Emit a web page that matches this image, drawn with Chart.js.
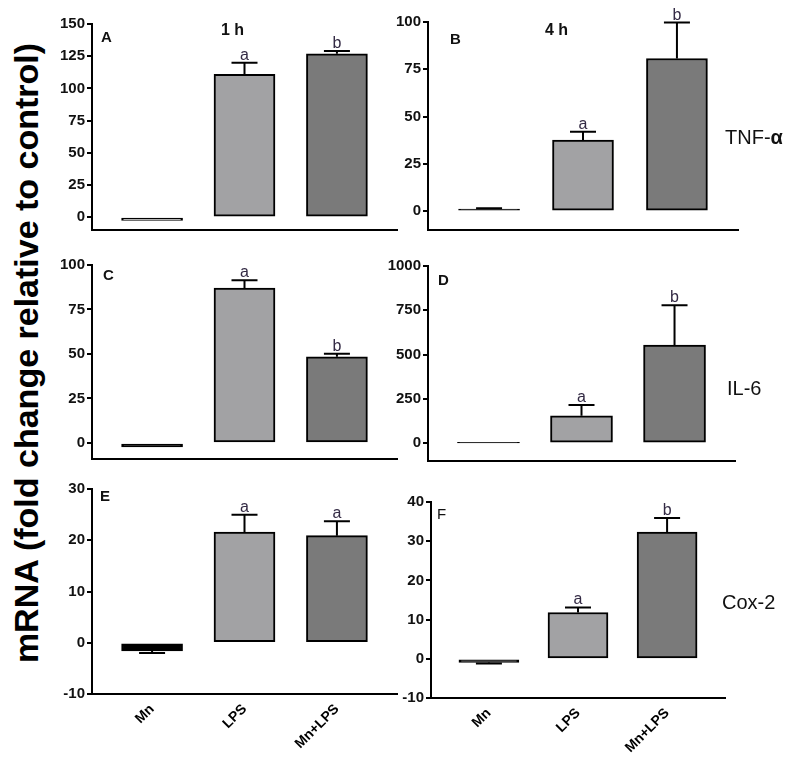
<!DOCTYPE html>
<html>
<head>
<meta charset="utf-8">
<script src="https://cdn.jsdelivr.net/npm/chart.js@4"></script>
<style>
  body { margin: 0; background: #fff; width: 800px; height: 761px; position: relative; overflow: hidden;
         font-family: "Liberation Sans", Arial, sans-serif; }
  canvas { position: absolute; }
  .t { position: absolute; color: #111; white-space: nowrap; line-height: 1; }
  .bold { font-weight: bold; }
  #ylab { position: absolute; left: 26px; top: 353px; font-size: 34px; font-weight: bold;
          transform: translate(-50%, -50%) rotate(-90deg); white-space: nowrap; color: #000; }
</style>
</head>
<body>
<div id="ylab">mRNA (fold change relative to control)</div>

<canvas id="cA"></canvas>
<canvas id="cB"></canvas>
<canvas id="cC"></canvas>
<canvas id="cD"></canvas>
<canvas id="cE"></canvas>
<canvas id="cF"></canvas>

<div class="t bold" style="left:101px;top:29px;font-size:15px">A</div>
<div class="t bold" style="left:450px;top:31px;font-size:15px">B</div>
<div class="t bold" style="left:103px;top:267px;font-size:15px">C</div>
<div class="t bold" style="left:438px;top:272px;font-size:15px">D</div>
<div class="t bold" style="left:100px;top:488px;font-size:15px">E</div>
<div class="t" style="left:437px;top:506px;font-size:15px">F</div>
<div class="t bold" style="left:221px;top:22px;font-size:16px">1 h</div>
<div class="t bold" style="left:545px;top:22px;font-size:16px">4 h</div>
<div class="t" style="left:725px;top:127px;font-size:20px">TNF-<b>α</b></div>
<div class="t" style="left:727px;top:378px;font-size:20px">IL-6</div>
<div class="t" style="left:722px;top:592px;font-size:20px">Cox-2</div>

<script>
const categories = ["Mn", "LPS", "Mn+LPS"];

// TNF-a
const tnf1h = [-2.5, 111, 126.8];
const tnf1hErr = [0, 9, 2.3];
const tnf4h = [1, 37.5, 80.7];
const tnf4hErr = [0.5, 4.5, 19];
// IL-6
const il6_1h = [-2.2, 87, 48.4];
const il6_1hErr = [0, 4.4, 1.8];
const il6_4h = [2, 155, 554];
const il6_4hErr = [0, 61, 225];
// Cox-2
const cox1h = [-1.6, 21.6, 20.9];
const cox1hErr = [0.4, 3.4, 2.8];
const cox4h = [-0.9, 11.8, 32.3];
const cox4hErr = [0.3, 1.3, 3.6];

const marksAB = ["", "a", "b"];
const marksE = ["", "a", "a"];

const ticksA = [0, 25, 50, 75, 100, 125, 150];
const ticksB = [0, 25, 50, 75, 100];
const ticksC = [0, 25, 50, 75, 100];
const ticksD = [0, 250, 500, 750, 1000];
const ticksE = [-10, 0, 10, 20, 30];
const ticksF = [-10, 0, 10, 20, 30, 40];

const lpsColor = "#a2a2a4";
const mnLpsColor = "#7a7a7a";

// error bars + significance letters
const errbars = {
  id: "errbars",
  afterDatasetsDraw(chart, args, opts) {
    const ctx = chart.ctx;
    const y = chart.scales.y;
    const meta = chart.getDatasetMeta(0);
    ctx.save();
    ctx.strokeStyle = "#000";
    ctx.lineWidth = 2;
    opts.values.forEach((v, i) => {
      const x = meta.data[i].x;
      const e = opts.errors[i];
      const sign = v < 0 ? -1 : 1;
      const y0 = y.getPixelForValue(v);
      const y1 = y.getPixelForValue(v + sign * e);
      if (e > 0) {
        ctx.beginPath();
        ctx.moveTo(x, y0);
        ctx.lineTo(x, y1);
        ctx.moveTo(x - 13, y1);
        ctx.lineTo(x + 13, y1);
        ctx.stroke();
      }
      if (opts.marks[i]) {
        ctx.fillStyle = "#332a44";
        ctx.font = "16px 'Liberation Sans', Arial";
        ctx.textAlign = "center";
        ctx.textBaseline = "alphabetic";
        ctx.fillText(opts.marks[i], x, y1 - 3);
      }
    });
    ctx.restore();
  }
};

function panel(id, box, vals, errs, marks, yTicks, yMin, mnColor, bottomRow) {
  const cv = document.getElementById(id);
  cv.width = box.w;
  cv.height = box.h;
  cv.style.left = box.x + "px";
  cv.style.top = box.y + "px";

  new Chart(cv, {
    type: "bar",
    data: {
      datasets: [{
        data: vals.map((v, i) => ({ x: i + 1, y: v })),
        backgroundColor: [mnColor, lpsColor, mnLpsColor],
        borderColor: "#000",
        borderWidth: 2,
        borderSkipped: false,
        barThickness: box.bar
      }]
    },
    options: {
      responsive: false,
      animation: false,
      layout: { padding: { top: box.pt, right: box.pr, left: 0, bottom: 0 } },
      plugins: {
        legend: { display: false },
        tooltip: { enabled: false },
        errbars: { values: vals, errors: errs, marks: marks }
      },
      scales: {
        x: {
          type: "linear",
          offset: false,
          min: 0.35,
          max: 3.65,
          afterBuildTicks: s => { s.ticks = categories.map((c, i) => ({ value: i + 1 })); },
          afterFit: s => { s.height = bottomRow ? 62 : 2; },
          grid: { display: false, drawTicks: false, offset: false },
          border: { display: true, color: "#000", width: 2 },
          ticks: {
            display: bottomRow,
            minRotation: 45,
            maxRotation: 45,
            padding: 7,
            color: "#000",
            font: { family: "'Liberation Sans', Arial", size: 14, weight: "bold" },
            callback: v => categories[Math.round(v) - 1]
          }
        },
        y: {
          min: yMin,
          max: yTicks[yTicks.length - 1],
          afterBuildTicks: s => { s.ticks = yTicks.map(v => ({ value: v })); },
          afterFit: s => { s.width = 52; },
          grid: { display: true, drawOnChartArea: false, drawTicks: true, tickLength: 5, color: "#000", lineWidth: 2 },
          border: { display: true, color: "#000", width: 2 },
          ticks: {
            padding: 2,
            color: "#111",
            font: { family: "'Liberation Sans', Arial", size: 15, weight: "bold" },
            callback: v => String(v)
          }
        }
      }
    },
    plugins: [errbars]
  });
}

panel("cA", { x: 40, y: 2, w: 360, h: 239, pt: 22, pr: 3, bar: 61 }, tnf1h, tnf1hErr, marksAB, ticksA, -10, "#e2e2e2", false);
panel("cB", { x: 376, y: 0, w: 424, h: 241, pt: 22, pr: 62, bar: 61 }, tnf4h, tnf4hErr, marksAB, ticksB, -10, "#000", false);
panel("cC", { x: 40, y: 243, w: 360, h: 227, pt: 22, pr: 3, bar: 61 }, il6_1h, il6_1hErr, marksAB, ticksC, -9, "#000", false);
panel("cD", { x: 376, y: 244, w: 424, h: 228, pt: 22, pr: 65, bar: 62 }, il6_4h, il6_4hErr, marksAB, ticksD, -100, "#000", false);
panel("cE", { x: 40, y: 473, w: 360, h: 283, pt: 16, pr: 3, bar: 61 }, cox1h, cox1hErr, marksE, ticksE, -10, "#000", true);
panel("cF", { x: 379, y: 484, w: 421, h: 276, pt: 18, pr: 75, bar: 60 }, cox4h, cox4hErr, marksAB, ticksF, -10, "#000", true);
</script>
</body>
</html>
